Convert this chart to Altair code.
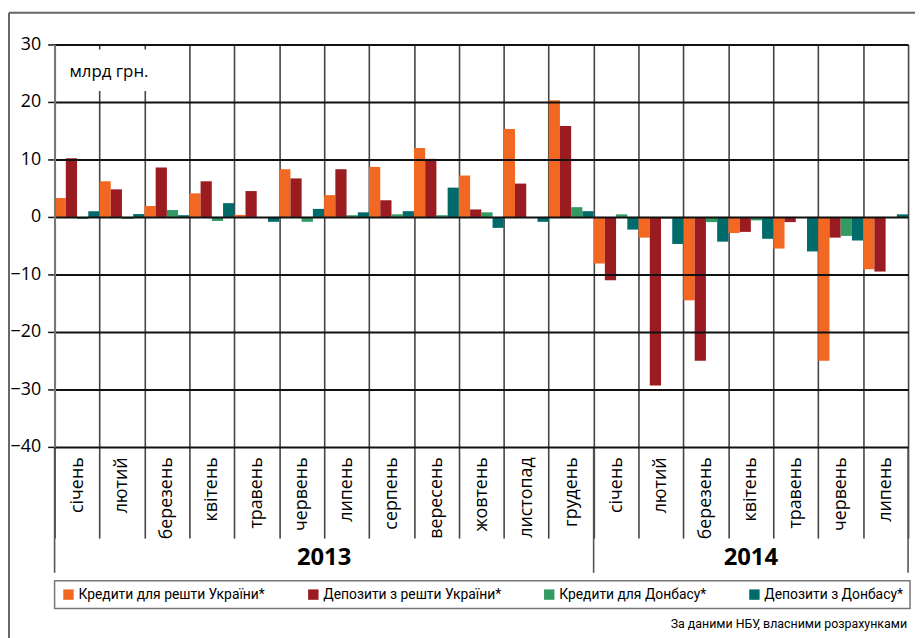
import altair as alt
import pandas as pd

# ---------------- data ----------------
years = ["2013", "2014"]
months_2013 = ["січень", "лютий", "березень", "квітень", "травень", "червень",
               "липень", "серпень", "вересень", "жовтень", "листопад", "грудень"]
months_2014 = ["січень", "лютий", "березень", "квітень", "травень", "червень", "липень"]

series_names = ["Кредити для решти України*", "Депозити з решти України*",
                "Кредити для Донбасу*", "Депозити з Донбасу*"]
series_colors = ["#F26722", "#9A1B20", "#349A64", "#006B6A"]

credits_rest = [3.3, 6.2, 1.9, 4.1, 0.35, 8.3, 3.8, 8.7, 12.0, 7.2, 15.3, 20.3,
                -8.1, -3.6, -14.5, -2.8, -5.5, -25.0, -9.1]
deposits_rest = [10.2, 4.8, 8.6, 6.2, 4.5, 6.7, 8.3, 2.9, 10.1, 1.3, 5.8, 15.8,
                 -11.0, -29.3, -25.0, -2.6, -0.9, -3.6, -9.5]
credits_donbas = [-0.35, -0.35, 1.2, -0.7, 0.0, -0.85, 0.3, 0.45, 0.3, 0.8, 0.0, 1.7,
                  0.45, -0.3, -0.9, -0.6, 0.0, -3.3, 0.0]
deposits_donbas = [1.0, 0.5, 0.3, 2.4, -0.85, 1.4, 0.8, 1.0, 5.1, -1.9, -0.85, 1.0,
                   -2.2, -4.7, -4.3, -3.8, -6.0, -4.1, 0.45]

y_ticks = [-40, -30, -20, -10, 0, 10, 20, 30]
unit_label = "млрд грн."
source_label = "За даними НБУ, власними розрахунками"

# ---------------- tables ----------------
month_lists = {"2013": months_2013, "2014": months_2014}
keys = [f"{y}|{m}" for y in years for m in month_lists[y]]
all_series = [credits_rest, deposits_rest, credits_donbas, deposits_donbas]

rows = []
for i, k in enumerate(keys):
    for s, vals in zip(series_names, all_series):
        rows.append({"key": k, "series": s, "value": vals[i]})
df = pd.DataFrame(rows)

starts = pd.DataFrame({"key": [f"{y}|{month_lists[y][0]}" for y in years]})
ends = pd.DataFrame({"key": [f"{years[-1]}|{month_lists[years[-1]][-1]}"]})

FONT = "Open Sans"
NARROW = "Roboto, sans-serif"

bars = alt.Chart(df).mark_bar().encode(
    x=alt.X("key:N", sort=keys,
            scale=alt.Scale(domain=keys, paddingInner=0, paddingOuter=0),
            axis=alt.Axis(title=None, orient="bottom", domain=False, grid=True,
                          gridColor="#444", gridWidth=1.6, tickBand="extent",
                          ticks=True, tickSize=92, tickColor="#444", tickWidth=1.6,
                          labelAngle=270, labelPadding=-82, labelAlign="right",
                          labelBaseline="middle", labelOverlap=False,
                          labelExpr="split(datum.label, '|')[1]",
                          labelFont=FONT, labelFontSize=18, labelColor="#000",
                          zindex=0)),
    xOffset=alt.XOffset("series:N", sort=series_names,
                        scale=alt.Scale(domain=series_names, paddingInner=0, paddingOuter=0)),
    y=alt.Y("value:Q", scale=alt.Scale(domain=[-40, 30], nice=False, zero=False),
            axis=alt.Axis(title=None, values=y_ticks, grid=True, gridColor="#111",
                          gridWidth=2, domain=True, domainColor="#777", domainWidth=2,
                          ticks=True, tickSize=7, tickColor="#111", tickWidth=1.5,
                          labelFont=FONT, labelFontSize=18, labelPadding=7,
                          labelColor="#000", zindex=1)),
    color=alt.Color("series:N", sort=series_names,
                    scale=alt.Scale(domain=series_names, range=series_colors),
                    legend=alt.Legend(title=None, orient="none", legendX=0, legendY=541,
                                      direction="horizontal", columns=4,
                                      symbolType="square", symbolSize=110,
                                      symbolStrokeWidth=0, labelFont=NARROW,
                                      labelFontSize=14, labelColor="#000",
                                      labelLimit=0, labelOffset=3,
                                      columnPadding=41, padding=7)),
)

start_rules = alt.Chart(starts).mark_rule(color="#555", strokeWidth=1.6).encode(
    x=alt.X("key:N", sort=keys, bandPosition=0),
    y=alt.value(406), y2=alt.value(533))
end_rules = alt.Chart(ends).mark_rule(color="#555", strokeWidth=1.6).encode(
    x=alt.X("key:N", sort=keys, bandPosition=1),
    y=alt.value(406), y2=alt.value(533))

year_layers = []
for y in years:
    n = len(month_lists[y])
    c = n / 2
    idx = int(c)
    frac = c - idx
    ydf = pd.DataFrame({"key": [f"{y}|{month_lists[y][idx]}"], "year": [y]})
    year_layers.append(
        alt.Chart(ydf).mark_text(font=FONT, fontSize=24, fontWeight="bold",
                                 baseline="middle", align="center", color="#000").encode(
            x=alt.X("key:N", sort=keys, bandPosition=frac),
            y=alt.value(518), text="year:N"))

blank = alt.Data(values=[{}])
label_box = alt.Chart(blank).mark_rect(fill="white").encode(
    x=alt.value(3), x2=alt.value(105), y=alt.value(5), y2=alt.value(47))
unit_text = alt.Chart(blank).mark_text(font=FONT, fontSize=17, align="left",
                                       baseline="middle", color="#000").encode(
    x=alt.value(15), y=alt.value(28), text=alt.value(unit_label))
source_text = alt.Chart(blank).mark_text(font=NARROW, fontSize=12.5, align="right",
                                         baseline="middle", color="#000").encode(
    x=alt.value(860), y=alt.value(585), text=alt.value(source_label))
frame_v = alt.Chart(blank).mark_rule(color="#666", strokeWidth=2).encode(
    x=alt.value(-46), y=alt.value(-32), y2=alt.value(600))
frame_h = alt.Chart(blank).mark_rule(color="#666", strokeWidth=2).encode(
    x=alt.value(-46), x2=alt.value(870), y=alt.value(-32))

chart = alt.layer(
    bars, start_rules, end_rules, *year_layers, label_box, unit_text,
    source_text, frame_v, frame_h
).properties(
    width=861, height=406,
    autosize=alt.AutoSizeParams(type="none"),
    padding={"left": 47, "top": 34, "right": 7, "bottom": 190},
).configure_view(stroke=None).configure_legend(
    strokeColor="#777", strokeWidth=1.5, fillColor="white"
)

chart.save("out.html", embed_options={"renderer": "svg", "actions": False})
